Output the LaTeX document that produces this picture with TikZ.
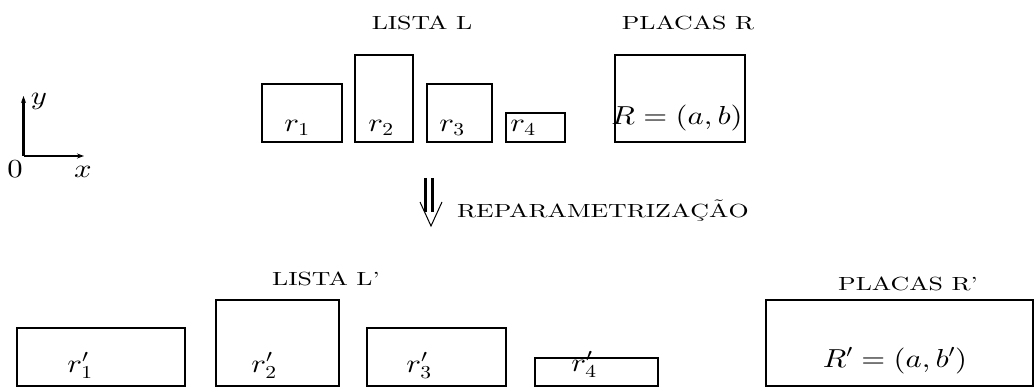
\documentclass[tikz,border=0pt]{standalone}
\usepackage{graphicx}
\usetikzlibrary{arrows.meta}
\DeclareFontShape{OML}{cmm}{m}{it}{<->cmmi10}{}
\DeclareFontShape{OT1}{cmr}{m}{n}{<->cmr10}{}
\DeclareFontShape{OMS}{cmsy}{m}{n}{<->cmsy10}{}
\newcommand{\ttl}[1]{\scalebox{1.36}[1]{\fontencoding{OT1}\fontfamily{cmr}\fontsize{19}{22}\selectfont #1}}
\newcommand{\mth}[1]{\scalebox{1.18}[1]{\fontsize{26}{30}\selectfont $#1$}}
\tikzset{
  box/.style={draw, line width=2.9pt, inner sep=0pt, outer sep=0pt},
  lbl/.style={inner sep=0pt, anchor=base},
  ttlnode/.style={inner sep=0pt, anchor=base},
  axis/.style={line width=2.8pt, -{Stealth[length=7pt,width=5pt]}},
}
\begin{document}
\begin{tikzpicture}[x=1pt,y=-1pt]
\useasboundingbox (0,0) rectangle (1035,390);
% titles
\node[ttlnode] (tL) at (422,30) {\ttl{LISTA L}};
\node[ttlnode] (tR) at (688,30) {\ttl{PLACAS R}};
\node[ttlnode] (tL2) at (326,285) {\ttl{LISTA L'}};
\node[ttlnode] (tR2) at (908,290) {\ttl{PLACAS R'}};
\node[inner sep=0pt, anchor=base west] (rep) at (457,217) {\ttl{REPARAMETRIZA\c{C}\~{A}O}};
% axes
\coordinate (O) at (23.5,156);
\coordinate (Y) at (23.5,96);
\coordinate (X) at (84,156);
\draw[axis] (O) -- (Y);
\draw[axis] (O) -- (X);
\node[lbl] (zero) at (15,178) {\mth{0}};
\node[lbl] (xl) at (83,178) {\mth{x}};
\node[lbl] (yl) at (39,105) {\mth{y}};
% top row
\node[box, minimum width=80pt, minimum height=58pt] (r1) at (302,113) {};
\node[box, minimum width=58pt, minimum height=87pt] (r2) at (384,98.5) {};
\node[box, minimum width=65pt, minimum height=58pt] (r3) at (459.5,113) {};
\node[box, minimum width=59pt, minimum height=29pt] (r4) at (535.5,127.5) {};
\node[box, minimum width=130pt, minimum height=87pt] (R) at (680,98.5) {};
\node[lbl] (l1) at (297,132) {\mth{r_1}};
\node[lbl] (l2) at (381,132) {\mth{r_2}};
\node[lbl] (l3) at (452,132) {\mth{r_3}};
\node[lbl] (l4) at (523,132) {\mth{r_4}};
\node[lbl] (lR) at (677,125) {\mth{R=(a,b)}};
% bottom row
\node[box, minimum width=168pt, minimum height=58pt] (s1) at (101,357) {};
\node[box, minimum width=123pt, minimum height=86pt] (s2) at (277.5,343) {};
\node[box, minimum width=139pt, minimum height=58pt] (s3) at (436.5,357) {};
\node[box, minimum width=123pt, minimum height=28pt] (s4) at (596.5,372) {};
\node[box, minimum width=267pt, minimum height=86pt] (S) at (899.5,343) {};
\node[lbl] (m1) at (80,372) {\mth{r'_1}};
\node[lbl] (m2) at (264,372) {\mth{r'_2}};
\node[lbl] (m3) at (419,372) {\mth{r'_3}};
\node[lbl] (m4) at (584,371) {\mth{r'_4}};
\node[lbl] (mR) at (895,367) {\mth{R'=(a,b')}};
% reparametrization arrow
\coordinate (a1t) at (425.5,178);
\coordinate (a1b) at (425.5,212);
\coordinate (a2t) at (432.5,178);
\coordinate (a2b) at (432.5,212);
\coordinate (hl) at (420,202);
\coordinate (ht) at (431,226);
\coordinate (hr) at (442,202);
\draw[line width=2.8pt] (a1t) -- (a1b);
\draw[line width=2.8pt] (a2t) -- (a2b);
\draw[line width=1pt] (hl) -- (ht) -- (hr);
\end{tikzpicture}
\end{document}
